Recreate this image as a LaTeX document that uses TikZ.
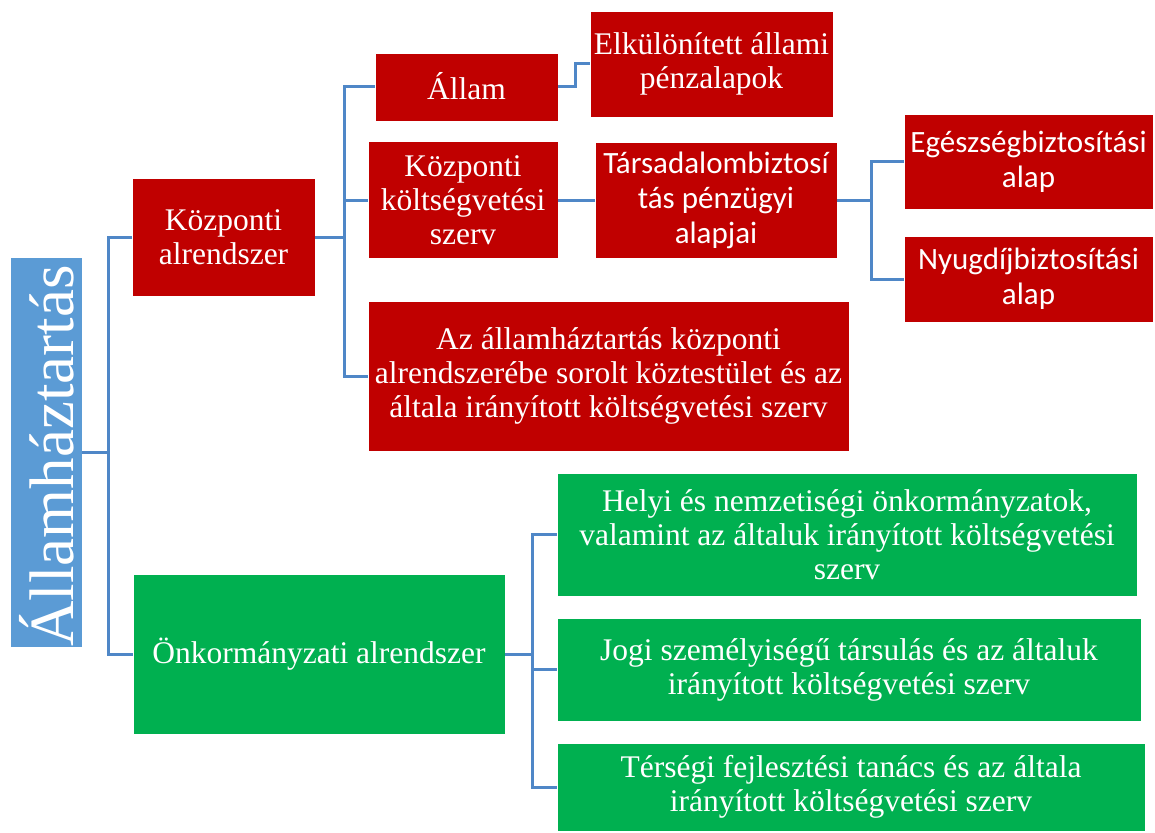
\documentclass[tikz,border=0pt]{standalone}
\usepackage{fontspec}
\setmainfont{Liberation Serif}
\newfontfamily\calib{Carlito}
\definecolor{boxred}{HTML}{C00000}
\definecolor{boxgreen}{HTML}{00B050}
\definecolor{rootblue}{HTML}{5B9BD5}
\definecolor{linkblue}{HTML}{4F87C7}
\begin{document}
\begin{tikzpicture}[x=1pt,y=-1pt,
  box/.style={rectangle, draw=white, line width=0.6pt, text=white, align=center, inner sep=0pt,
    font=\fontsize{31.5}{34}\selectfont},
  redbox/.style={box, fill=boxred},
  greenbox/.style={box, fill=boxgreen},
  sansbox/.style={redbox, font=\calib\fontsize{31}{35}\selectfont},
  link/.style={draw=linkblue, line width=3pt}]
\useasboundingbox (0,0) rectangle (1155,832);

% root
\node[rectangle, fill=rootblue, draw=white, line width=0.6pt, minimum width=72pt, minimum height=390pt, inner sep=0pt] (root) at (46,452) {};
\node[rotate=90, text=white, inner sep=0pt, font=\fontsize{63}{68}\selectfont] (roottext) at (47,456) {Államháztartás};

% central subsystem
\node[redbox, minimum width=183pt, minimum height=118pt] (ka) at (223.5,237) {Központi\\alrendszer};
\node[redbox, minimum width=183pt, minimum height=68pt] (allam) at (466.5,87) {\raisebox{2pt}{Állam}};
\node[redbox, minimum width=190pt, minimum height=117pt] (ksz) at (463,200) {Központi\\költségvetési\\szerv};
\node[redbox, minimum width=481pt, minimum height=150pt] (az) at (608.5,376) {Az államháztartás központi\\alrendszerébe sorolt köztestület és az\\általa irányított költségvetési szerv};
\node[redbox, minimum width=243pt, minimum height=106pt] (elk) at (711.5,64) {Elkülönített állami\\pénzalapok};
\node[sansbox, minimum width=242pt, minimum height=116pt] (tb) at (716,200) {Társadalombiztosí\\tás pénzügyi\\alapjai};
\node[sansbox, minimum width=249pt, minimum height=95pt] (eg) at (1028.5,161.5) {Egészségbiztosítási\\alap};
\node[sansbox, minimum width=249pt, minimum height=86pt] (ny) at (1028.5,279) {Nyugdíjbiztosítási\\alap};

% local subsystem
\node[greenbox, minimum width=372pt, minimum height=160pt] (onk) at (319,654) {Önkormányzati alrendszer};
\node[greenbox, minimum width=580pt, minimum height=123pt] (helyi) at (847,534.5) {Helyi és nemzetiségi önkormányzatok,\\valamint az általuk irányított költségvetési\\szerv};
\node[greenbox, minimum width=584pt, minimum height=103pt] (jogi) at (849,669.5) {Jogi személyiségű társulás és az általuk\\irányított költségvetési szerv};
\node[greenbox, minimum width=588pt, minimum height=88pt] (ters) at (851,787) {Térségi fejlesztési tanács és az általa\\irányított költségvetési szerv};

% junctions
\coordinate (j1) at (108,452);
\coordinate (j2) at (344,237);
\coordinate (j3) at (575,87);
\coordinate (j4) at (871,200);
\coordinate (j5) at (532,654);

% connectors
\draw[link] (root.east |- j1) -- (j1) |- (ka.west);
\draw[link] (j1) |- (onk.west);
\draw[link] (ka.east) -- (j2) |- (allam.west);
\draw[link] (j2) |- (ksz.west);
\draw[link] (j2) |- (az.west);
\draw[link] (allam.east) -- (j3) |- (elk.west);
\draw[link] (ksz.east) -- (tb.west);
\draw[link] (tb.east) -- (j4) |- (eg.west);
\draw[link] (j4) |- (ny.west);
\draw[link] (onk.east) -- (j5) |- (helyi.west);
\draw[link] (j5) |- (jogi.west);
\draw[link] (j5) |- (ters.west);
\end{tikzpicture}
\end{document}
